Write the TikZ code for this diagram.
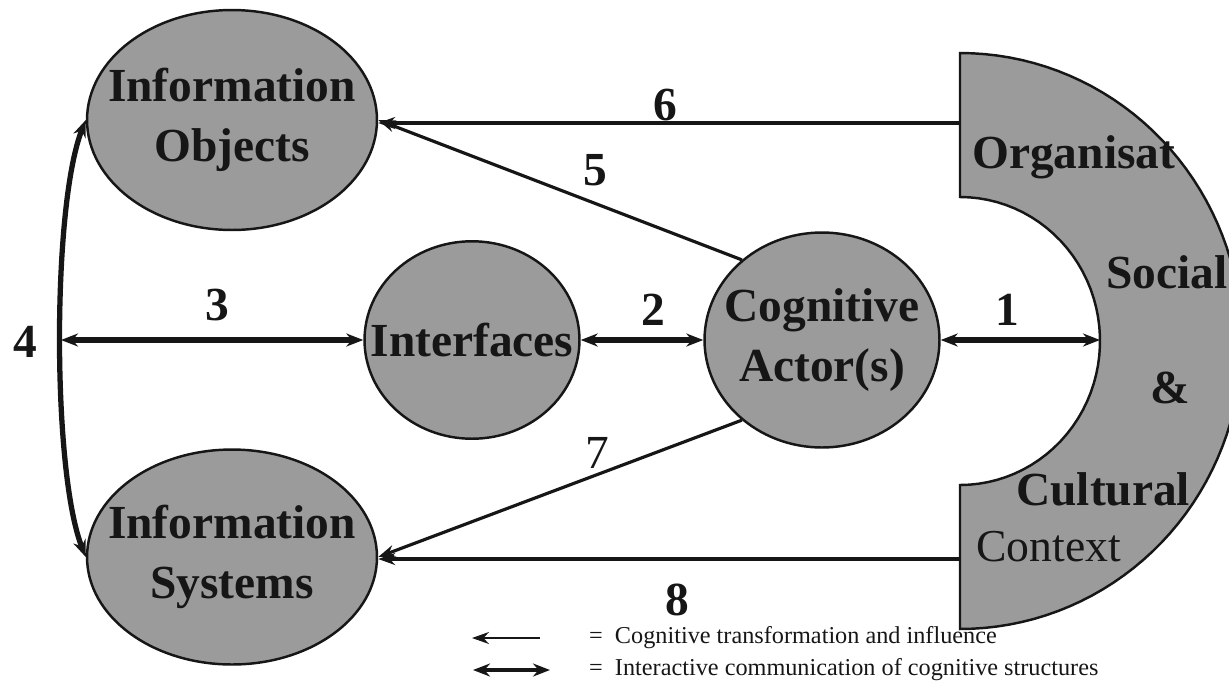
\documentclass[tikz,border=0pt]{standalone}
\usepackage{fontspec}
\setmainfont{Liberation Serif}
\usetikzlibrary{arrows.meta,shapes.geometric}
\definecolor{KGrey}{HTML}{9B9B9B}
\definecolor{KInk}{HTML}{161616}

\begin{document}
\begin{tikzpicture}[x=0.02cm,y=-0.02cm,
    blob/.style={ellipse,fill=KGrey,draw=KInk,line width=1.4pt,inner sep=0pt},
    blobtext/.style={font=\fontsize{27}{34}\selectfont\bfseries,align=center,text=KInk},
    num/.style={font=\fontsize{27}{30}\selectfont\bfseries,text=KInk},
    infl/.style={-{Stealth[length=0.34cm,width=0.24cm]},line width=1.8pt,draw=KInk},
    comm/.style={{Stealth[length=0.34cm,width=0.26cm]}-{Stealth[length=0.34cm,width=0.26cm]},
                 line width=3pt,draw=KInk},
    keytext/.style={font=\fontsize{13.8}{15}\selectfont,anchor=west,text=KInk}]
  \clip (0,0) rectangle (1229,687);

  % context band on the right
  \draw[fill=KGrey,draw=KInk,line width=1.4pt] (960,53)
    -- plot[domain=90:-90,samples=72] ({960+282*cos(\x)},{341-288*sin(\x)})
    -- (960,485)
    -- plot[domain=-90:90,samples=48] ({960+140*cos(\x)},{341-144*sin(\x)})
    -- cycle;
  \coordinate (ctx6) at (960,123);
  \coordinate (ctx1) at (1100,340);
  \coordinate (ctx8) at (960,559);
  \node[blobtext,anchor=west] (org) at (966,157) {Organisat};
  \node[blobtext,anchor=west] (soc) at (1100,272) {Social};
  \node[blobtext] (amp) at (1170,388) {\&};
  \node[blobtext,anchor=west] (cult) at (1010,489) {Cultural};
  \node[blobtext,anchor=west,font=\fontsize{26}{30}\selectfont] (cont) at (970,547) {Context};

  % the four blobs
  \node[blob,minimum width=5.8cm,minimum height=4.4cm] (objects) at (232,120) {};
  \node[blob,minimum width=5.8cm,minimum height=4.3cm] (systems) at (232,557) {};
  \node[blob,minimum width=4.3cm,minimum height=3.95cm] (interfaces) at (472,340) {};
  \node[blob,minimum width=4.7cm,minimum height=4.3cm] (actor) at (822,340) {};
  \node[blobtext] (objectsT) at (objects) {Information\\Objects};
  \node[blobtext] (systemsT) at (systems) {Information\\Systems};
  \node[blobtext] (interfacesT) at (interfaces) {Interfaces};
  \node[blobtext] (actorT) at (actor) {Cognitive\\Actor(s)};

  % connectors
  \coordinate (arc4) at (61,340);
  \draw[infl,line width=2.2pt] (ctx6) -- (ctx6 -| objects.east);
  \draw[infl] (actor.135) -- (objects.east);
  \draw[infl] (actor.225) -- (systems.east);
  \draw[infl,line width=2.2pt] (ctx8) -- (ctx8 -| systems.east);
  \draw[comm] (actor) -- (ctx1);
  \draw[comm] (interfaces) -- (actor);
  \draw[comm] (arc4) -- (interfaces);
  \draw[comm] (objects.west) .. controls (52,205) and (52,472) .. (systems.west);

  \node[num] (n1) at (1007,310) {1};
  \node[num] (n2) at (653,310) {2};
  \node[num] (n3) at (217,305) {3};
  \node[num] (n4) at (25,342) {4};
  \node[num] (n5) at (595,170) {5};
  \node[num] (n6) at (665,105) {6};
  \node[num,font=\fontsize{27}{30}\selectfont] (n7) at (597,453) {7};
  \node[num] (n8) at (677,600) {8};

  % key
  \coordinate (keyA1) at (472,638);
  \coordinate (keyA2) at (540,638);
  \coordinate (keyB1) at (473,670);
  \coordinate (keyB2) at (550,670);
  \draw[infl,line width=1pt] (keyA2) -- (keyA1);
  \draw[comm,line width=2pt] (keyB1) -- (keyB2);
  \node[keytext] (keyA) at (583,638) {=\ \ Cognitive transformation and influence};
  \node[keytext] (keyB) at (583,670) {=\ \ Interactive communication of cognitive structures};
\end{tikzpicture}
\end{document}
